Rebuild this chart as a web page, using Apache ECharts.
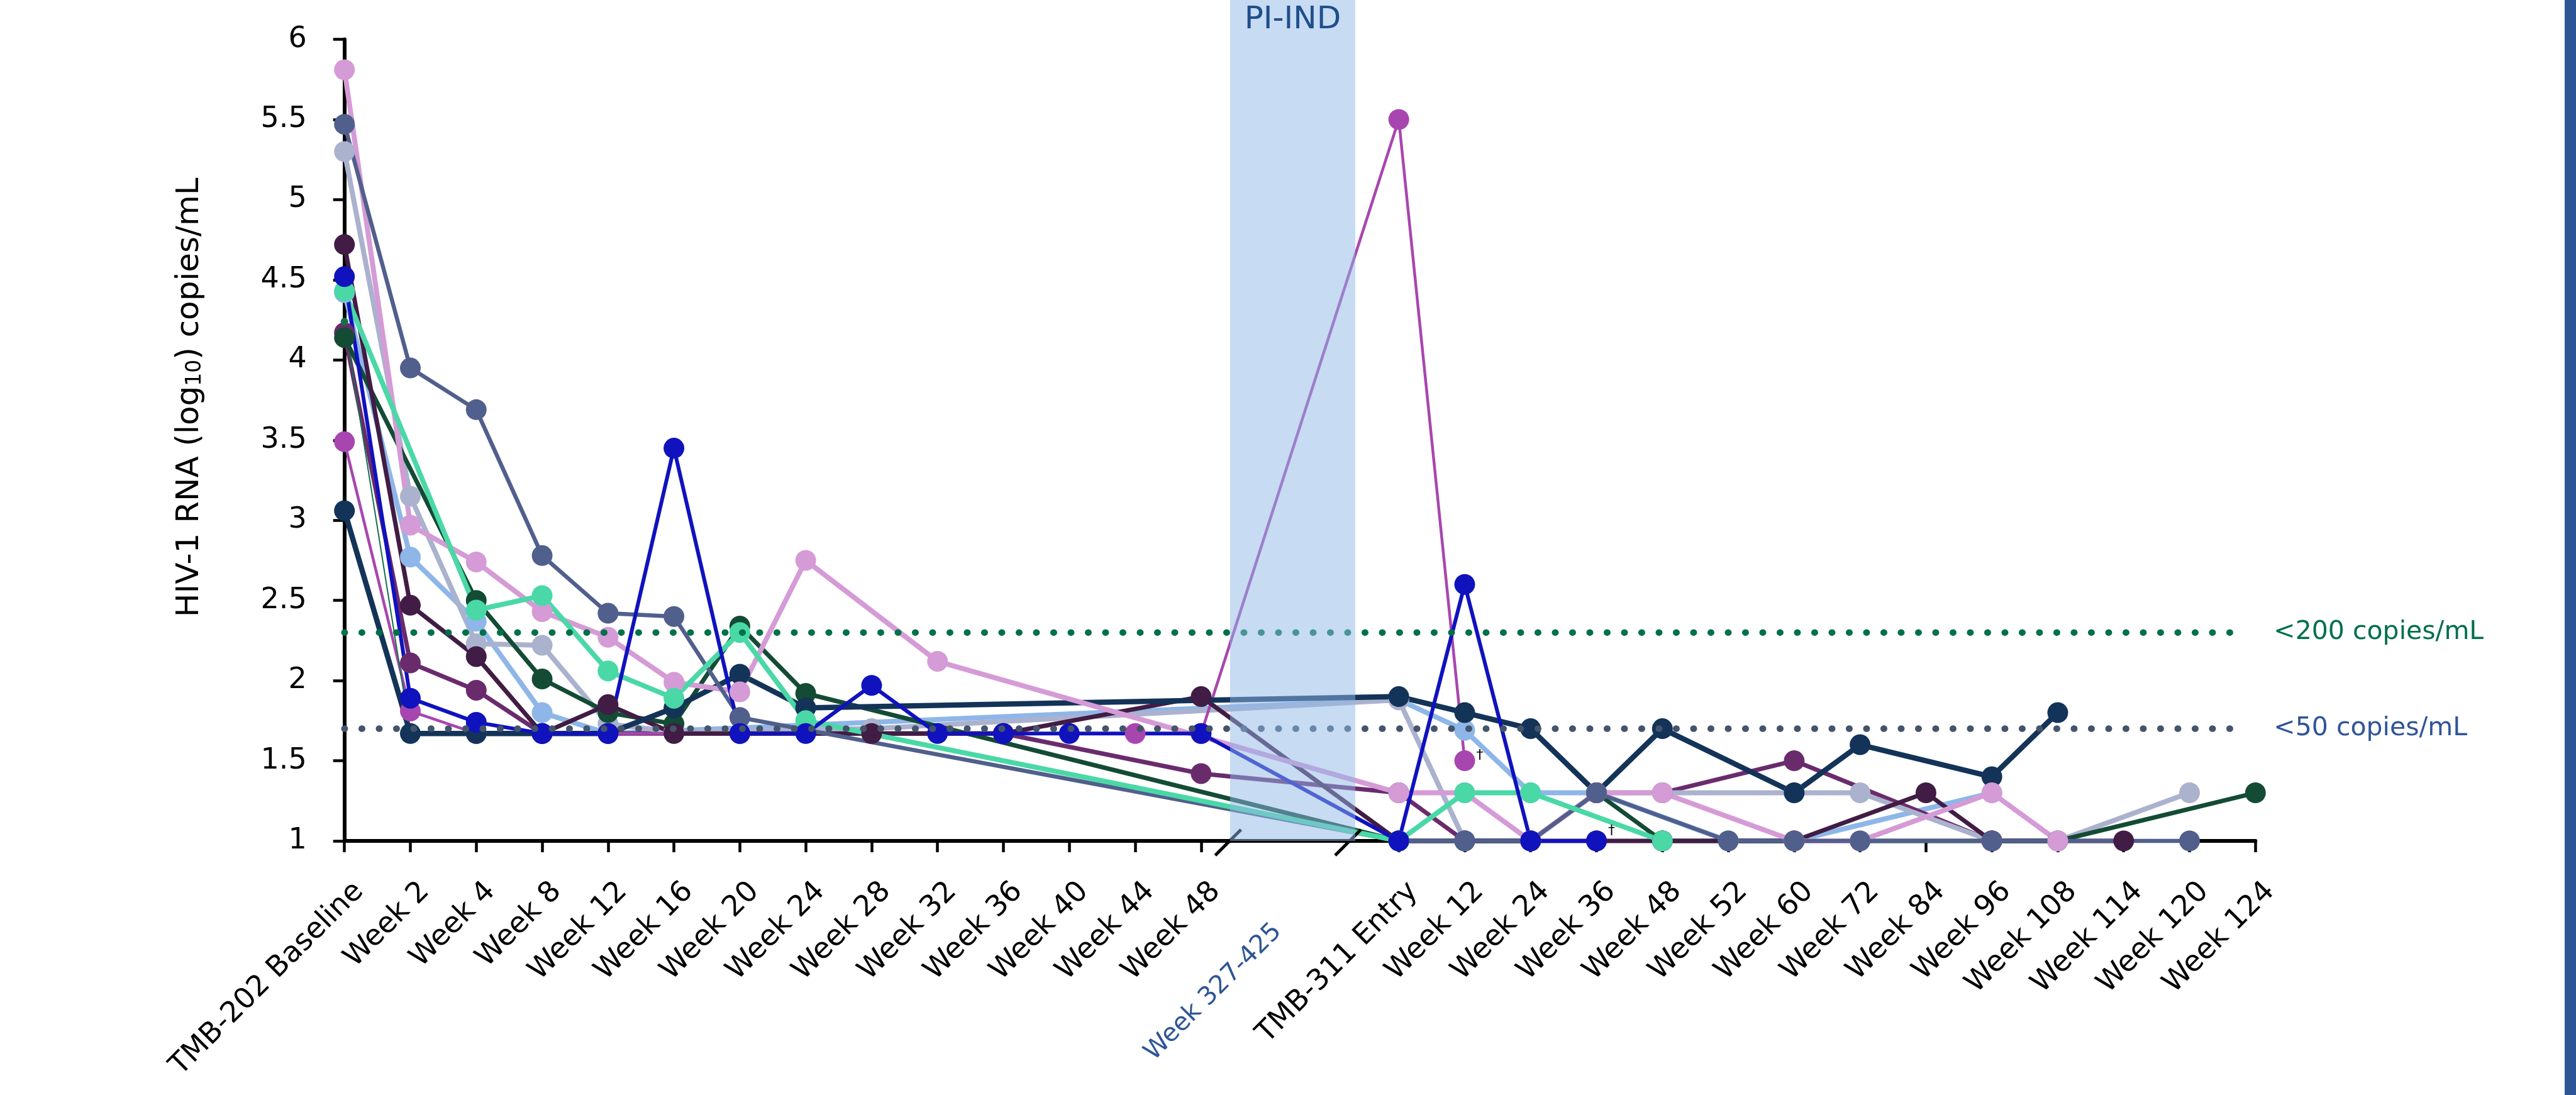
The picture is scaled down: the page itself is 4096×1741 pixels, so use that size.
<!DOCTYPE html>
<html>
<head>
<meta charset="utf-8">
<script src="https://cdn.jsdelivr.net/npm/echarts@6/dist/echarts.min.js"></script>
<style>
  html, body { margin: 0; padding: 0; background: #fff; }
  #chart { width: 4096px; height: 1741px; }
</style>
</head>
<body>
<div id="chart"></div>
<script>
const FONT = '"DejaVu Sans", "Noto Sans", sans-serif';

// visit labels, one per x slot (14/15 are the gap between the two studies)
const visits = [
  'TMB-202 Baseline', 'Week 2', 'Week 4', 'Week 8', 'Week 12', 'Week 16', 'Week 20',
  'Week 24', 'Week 28', 'Week 32', 'Week 36', 'Week 40', 'Week 44', 'Week 48',
  'Week 327-425', '',
  'TMB-311 Entry', 'Week 12', 'Week 24', 'Week 36', 'Week 48', 'Week 52', 'Week 60',
  'Week 72', 'Week 84', 'Week 96', 'Week 108', 'Week 114', 'Week 120', 'Week 124'
];
const tickSlots = [0,1,2,3,4,5,6,7,8,9,10,11,12,13,16,17,18,19,20,21,22,23,24,25,26,27,28,29];
const gapLabelSlot = 14;
const yTicks = { min: 1, max: 6, step: 0.5 };

// HIV-1 RNA (log10) per participant, null = no sample
const _ = null;
const lightBlue = [4.42,2.77,2.37,1.80,1.67,_,_,_,_,_,_,_,_,_,_,_,1.88,1.69,1.30,1.30,_,1.00,1.00,_,_,1.30,_,_,_,_];
const medPurple = [4.17,2.11,1.94,1.67,_,_,_,_,_,_,1.67,_,_,1.42,_,_,1.30,1.00,1.00,1.30,1.30,_,1.50,_,_,1.00,_,_,_,_];
const grayBlue  = [5.30,3.15,2.23,2.22,1.73,1.68,_,_,1.70,_,_,_,_,_,_,_,1.88,1.00,1.00,1.30,1.30,_,1.30,1.30,_,1.00,1.00,_,1.30,_];
const magenta   = [3.49,1.81,1.67,_,_,_,_,_,_,_,_,_,1.67,1.67,_,_,5.50,1.50,_,_,_,_,_,_,_,_,_,_,_,_];
const thinGreen = [4.24,1.67,_,_,_,_,_,_,_,_,_,_,_,_,_,_,_,_,_,_,_,_,_,_,_,_,_,_,_,_];
const darkGreen = [4.14,_,2.50,2.01,1.80,1.73,2.34,1.92,_,_,_,_,_,_,_,_,1.00,1.00,1.00,1.30,1.00,_,_,_,_,_,1.00,_,_,1.30];
const eggplant  = [4.72,2.47,2.15,1.67,1.85,1.67,1.67,_,1.67,_,1.67,_,_,1.90,_,_,1.00,_,_,1.00,1.00,_,1.00,_,1.30,1.00,_,1.00,_,_];
const navy      = [3.06,1.67,1.67,1.67,1.67,1.83,2.04,1.83,_,_,_,_,_,_,_,_,1.90,1.80,1.70,1.30,1.70,_,1.30,1.60,_,1.40,1.80,_,_,_];
const pink      = [5.81,2.97,2.74,2.43,2.27,1.99,1.93,2.75,_,2.12,_,_,_,_,_,_,1.30,1.30,1.00,1.30,1.30,_,1.00,1.00,_,1.30,1.00,_,_,_];
const slate     = [5.47,3.95,3.69,2.78,2.42,2.40,1.77,_,_,_,_,_,_,_,_,_,1.00,1.00,1.00,1.30,_,1.00,1.00,1.00,_,1.00,_,_,1.00,_];
const mint      = [4.43,_,2.44,2.53,2.06,1.89,2.30,1.75,_,_,_,_,_,_,_,_,1.00,1.30,1.30,_,1.00,_,_,_,_,_,_,_,_,_];
const royal     = [4.52,1.89,1.74,1.67,1.67,3.45,1.67,1.67,1.97,1.67,1.67,1.67,_,1.67,_,_,1.00,2.60,1.00,1.00,_,_,_,_,_,_,_,_,_,_];

// points marked with a dagger
const daggerMagenta = 17;
const daggerRoyal = 19;

// thresholds
const limit200 = 2.3;
const limit50 = 1.7;
const limitEnd = 28.8;

// PI-IND interval and axis break marks, in x-slot units
const bandStart = 13.44;
const bandEnd = 15.34;
const breakMarks = [13.41, 15.23];
const bandCenter = 14.39;

function points(values, dagger, daggerOffset) {
  const out = [];
  values.forEach((v, i) => {
    if (v == null) return;
    if (i === dagger) {
      out.push({
        value: [i, v],
        label: {
          show: true, formatter: '\u2020', position: 'right', distance: 2,
          offset: [0, daggerOffset], fontSize: 22, color: '#000', fontFamily: FONT
        }
      });
    } else {
      out.push([i, v]);
    }
  });
  return out;
}

function patient(name, values, color, width, size, dagger, daggerOffset) {
  return {
    name,
    type: 'line',
    data: points(values, dagger, daggerOffset),
    symbol: 'circle',
    symbolSize: size || 33,
    clip: false,
    lineStyle: { color, width },
    itemStyle: { color },
    emphasis: { disabled: true },
    z: 2
  };
}

function threshold(value, color, text, textColor) {
  return {
    type: 'line',
    data: [[0, value], [limitEnd, value]],
    symbol: 'none',
    clip: false,
    lineStyle: { color, width: 10.5, type: [0.5, 27], cap: 'round' },
    endLabel: {
      show: true, formatter: text, distance: 50,
      color: textColor, fontSize: 41, fontFamily: FONT
    },
    emphasis: { disabled: true },
    silent: true,
    z: 10
  };
}

const chart = echarts.init(document.getElementById('chart'));

chart.setOption({
  animation: false,
  backgroundColor: '#fff',
  textStyle: { fontFamily: FONT },
  grid: { left: 547.7, right: 509.7, top: 62.6, bottom: 404, containLabel: false, outerBoundsMode: 'none' },
  xAxis: {
    type: 'value',
    min: 0,
    max: 29,
    interval: 1,
    axisLine: { show: true, onZero: false, lineStyle: { color: '#000', width: 6 } },
    axisTick: { show: true, customValues: tickSlots, length: 18, lineStyle: { color: '#000', width: 4.5 } },
    axisLabel: {
      customValues: tickSlots,
      formatter: (v) => visits[v] || '',
      rotate: 45,
      margin: 50,
      verticalAlign: 'top',
      padding: [10, 0, 0, 0],
      fontSize: 46,
      color: '#000',
      fontFamily: FONT
    },
    splitLine: { show: false }
  },
  yAxis: {
    type: 'value',
    min: yTicks.min,
    max: yTicks.max,
    interval: yTicks.step,
    name: 'HIV-1 RNA (log{s|10}) copies/mL',
    nameLocation: 'middle',
    nameGap: 221,
    nameTextStyle: {
      fontSize: 50, color: '#000', fontFamily: FONT, padding: [0, 0, 0, 136],
      rich: { s: { fontSize: 33, verticalAlign: 'bottom', color: '#000', fontFamily: FONT } }
    },
    axisLine: { show: true, lineStyle: { color: '#000', width: 6 } },
    axisTick: { show: true, length: 18, lineStyle: { color: '#000', width: 4.5 } },
    axisLabel: { fontSize: 46, color: '#000', margin: 60, fontFamily: FONT },
    splitLine: { show: false }
  },
  series: [
    patient('light blue', lightBlue, '#8EB6E8', 8),
    patient('purple', medPurple, '#6A2B6D', 7),
    patient('grey blue', grayBlue, '#ABB2CE', 8),
    patient('magenta', magenta, '#A846AF', 4.5, 33, daggerMagenta, -8),
    patient('thin green', thinGreen, '#16714A', 2, 12),
    patient('dark green', darkGreen, '#134B35', 7),
    patient('eggplant', eggplant, '#411C44', 7),
    patient('navy', navy, '#133358', 8.5),
    patient('pink', pink, '#D59BD6', 8),
    patient('slate', slate, '#515F8C', 6.5),
    patient('mint', mint, '#4AD8A6', 8),
    patient('royal blue', royal, '#1012BE', 6, 33, daggerRoyal, -16),
    threshold(limit200, '#00704A', '<200 copies/mL', '#00704A'),
    threshold(limit50, '#44546A', '<50 copies/mL', '#2F5597')
  ]
});

// overlay band, break marks and gap label, placed through the axes
function drawOverlay() {
  const px = (x, y) => chart.convertToPixel({ gridIndex: 0 }, [x, y]);
  const [bx0, axisY] = px(bandStart, yTicks.min);
  const [bx1] = px(bandEnd, yTicks.min);
  const [cx] = px(bandCenter, yTicks.min);
  const [gx] = px(gapLabelSlot, yTicks.min);
  const w = chart.getWidth();
  const h = chart.getHeight();

  const slashes = breakMarks.map((b) => {
    const [sx] = px(b, yTicks.min);
    return {
      type: 'line',
      shape: { x1: sx - 20.5, y1: axisY + 23, x2: sx + 20.5, y2: axisY - 18 },
      style: { stroke: '#000', lineWidth: 5 },
      z: 15
    };
  });

  chart.setOption({
    graphic: [
      {
        type: 'rect',
        shape: { x: bx0, y: 0, width: bx1 - bx0, height: axisY },
        style: { fill: 'rgba(143,184,229,0.5)' },
        silent: true,
        z: 20
      },
      ...slashes,
      {
        type: 'text',
        x: cx,
        y: 32,
        style: {
          text: 'PI-IND', fill: '#1F4E8C', font: '50px ' + FONT,
          align: 'center', verticalAlign: 'middle', textAlign: 'center', textVerticalAlign: 'middle'
        },
        z: 30
      },
      {
        type: 'text',
        x: gx + 3,
        y: axisY + 124,
        rotation: Math.PI / 4,
        style: {
          text: visits[gapLabelSlot], fill: '#2F5597', font: '40px ' + FONT,
          align: 'right', verticalAlign: 'top', textAlign: 'right', textVerticalAlign: 'top'
        },
        z: 30
      },
      {
        type: 'rect',
        shape: { x: w - 18, y: 0, width: 18, height: h },
        style: { fill: '#2F5597' },
        silent: true,
        z: 30
      }
    ]
  });
}

drawOverlay();
window.addEventListener('resize', () => { chart.resize(); drawOverlay(); });
</script>
</body>
</html>
